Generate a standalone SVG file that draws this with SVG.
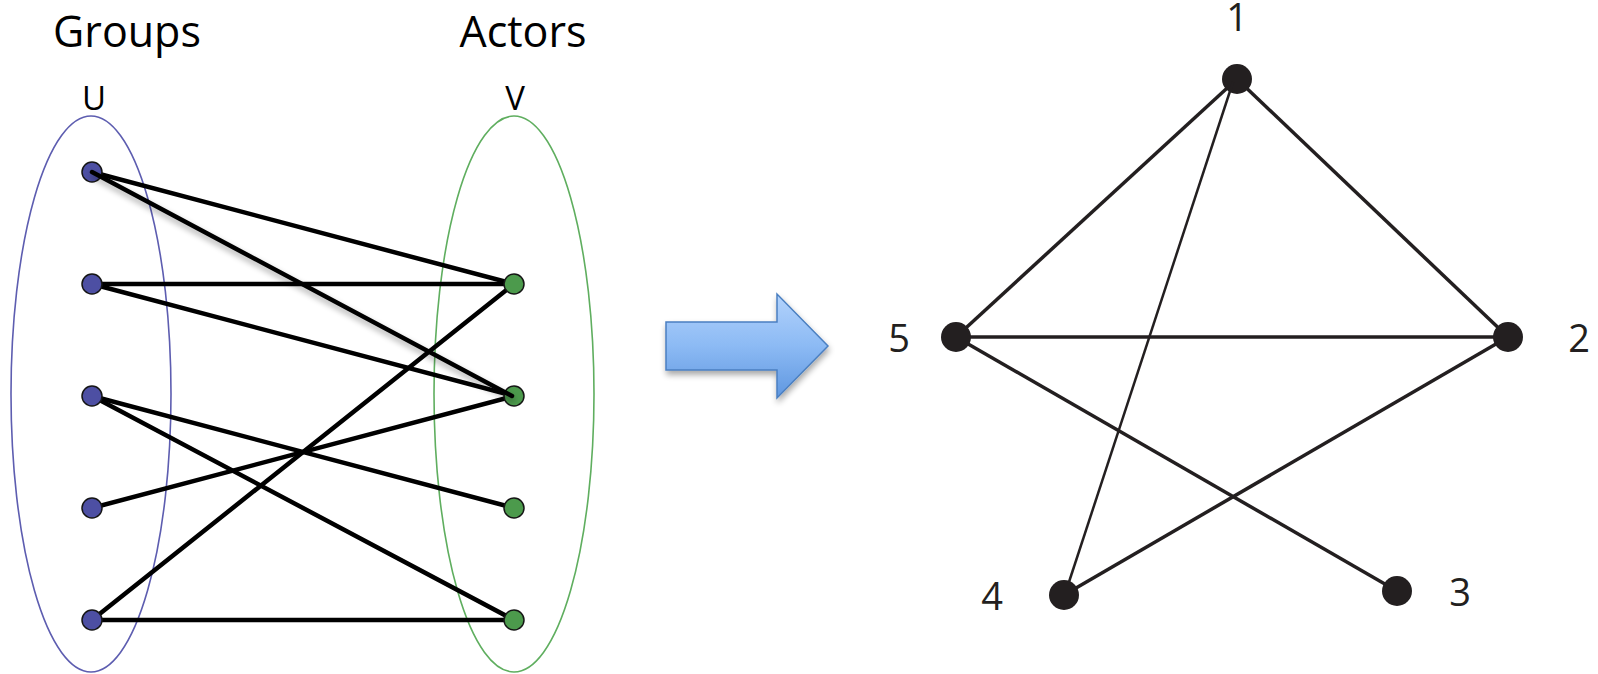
<svg xmlns="http://www.w3.org/2000/svg" width="1598" height="674" viewBox="0 0 1598 674">
  <style>
    .title { font-family: "Open Sans", "Liberation Sans", sans-serif; font-size: 43px; fill: #000; text-anchor: middle; }
    .set { font-family: "Open Sans", "Liberation Sans", sans-serif; font-size: 33px; fill: #000; text-anchor: middle; }
    .num { font-family: "Open Sans", "Liberation Sans", sans-serif; font-size: 38px; fill: #231f20; text-anchor: middle; }
    .bi { stroke: #000; stroke-width: 4.5; fill: none; stroke-linecap: round; }
    .uni { stroke: #231f20; stroke-width: 3.5; fill: none; }
    .u { fill: #4d4fa3; stroke: #151515; stroke-width: 1.5; }
    .v { fill: #4c9a4c; stroke: #151515; stroke-width: 1.5; }
    .p { fill: #231f20; }
  </style>
  <defs>
    <linearGradient id="arrowFill" x1="0" y1="0" x2="0" y2="1">
      <stop offset="0" stop-color="#b3d3fc"/>
      <stop offset="0.5" stop-color="#8cbaf4"/>
      <stop offset="1" stop-color="#5f97e0"/>
    </linearGradient>
    <filter id="softShadow" x="-20%" y="-20%" width="140%" height="160%">
      <feGaussianBlur in="SourceAlpha" stdDeviation="3"/>
      <feOffset dx="1" dy="4" result="b"/>
      <feComponentTransfer><feFuncA type="linear" slope="0.35"/></feComponentTransfer>
      <feMerge><feMergeNode/><feMergeNode in="SourceGraphic"/></feMerge>
    </filter>
  </defs>

  <!-- bipartite side: set outlines and titles -->
  <g id="sets">
    <ellipse id="set-U" cx="91" cy="394" rx="80" ry="278" fill="none" stroke="#5d5db0" stroke-width="1.6"/>
    <ellipse id="set-V" cx="514" cy="394" rx="80" ry="278" fill="none" stroke="#5fae5f" stroke-width="1.6"/>
    <text class="title" x="127" y="47">Groups</text>
    <text class="title" x="523" y="47">Actors</text>
    <text class="set" x="94" y="110">U</text>
    <text class="set" x="515" y="110">V</text>
  </g>

  <!-- bipartite edges -->
  <g id="bipartite-edges">
    <line class="bi" x1="92" y1="172" x2="514" y2="284"/>
    <line class="bi" x1="92" y1="284" x2="514" y2="284"/>
    <line class="bi" x1="92" y1="284" x2="514" y2="396"/>
    <line class="bi" x1="92" y1="396" x2="514" y2="508"/>
    <line class="bi" x1="92" y1="396" x2="514" y2="620"/>
    <line class="bi" x1="92" y1="508" x2="514" y2="396"/>
    <line class="bi" x1="92" y1="620" x2="514" y2="284"/>
    <line class="bi" x1="92" y1="620" x2="514" y2="620"/>
  </g>

  <!-- bipartite nodes -->
  <g id="u1"><circle class="u" cx="92" cy="172" r="10"/></g>
  <g id="u2"><circle class="u" cx="92" cy="284" r="10"/></g>
  <g id="u3"><circle class="u" cx="92" cy="396" r="10"/></g>
  <g id="u4"><circle class="u" cx="92" cy="508" r="10"/></g>
  <g id="u5"><circle class="u" cx="92" cy="620" r="10"/></g>
  <g id="v1"><circle class="v" cx="514" cy="284" r="10"/></g>
  <g id="v2"><circle class="v" cx="514" cy="396" r="10"/></g>
  <g id="v3"><circle class="v" cx="514" cy="508" r="10"/></g>
  <g id="v4"><circle class="v" cx="514" cy="620" r="10"/></g>

  <!-- edge drawn over its end nodes, with a soft shadow -->
  <g id="bipartite-edge-top">
    <line class="bi" x1="92" y1="172" x2="512" y2="396" filter="url(#softShadow)"/>
  </g>

  <!-- projection arrow -->
  <g id="arrow">
    <path d="M666,322 H777 V294 L828,346 L777,398 V370 H666 Z" fill="url(#arrowFill)" stroke="#4a7fc1" stroke-width="1.5" stroke-linejoin="miter" filter="url(#softShadow)"/>
  </g>

  <!-- one-mode projection edges -->
  <g id="projection-edges">
    <line class="uni" x1="1237" y1="79" x2="956" y2="337"/>
    <line class="uni" x1="1237" y1="79" x2="1508" y2="337"/>
    <line class="uni" x1="956" y1="337" x2="1508" y2="337"/>
    <line class="uni" x1="956" y1="337" x2="1397" y2="591"/>
    <line class="uni" x1="1508" y1="337" x2="1064" y2="595"/>
  </g>

  <!-- projection nodes -->
  <g id="n1"><circle class="p" cx="1237" cy="79" r="15"/><text class="num" x="1237" y="31">1</text></g>
  <g id="n2"><circle class="p" cx="1508" cy="337" r="15"/><text class="num" x="1579" y="352">2</text></g>
  <g id="n3"><circle class="p" cx="1397" cy="591" r="15"/><text class="num" x="1460" y="606">3</text></g>
  <g id="n4"><circle class="p" cx="1064" cy="595" r="15"/><text class="num" x="992" y="610">4</text></g>
  <g id="n5"><circle class="p" cx="956" cy="337" r="15"/><text class="num" x="899" y="352">5</text></g>

  <!-- 1–4 edge runs over node 1 -->
  <g id="projection-edge-top">
    <line stroke="#231f20" stroke-width="2.5" x1="1233" y1="82" x2="1069" y2="582"/>
  </g>
</svg>
